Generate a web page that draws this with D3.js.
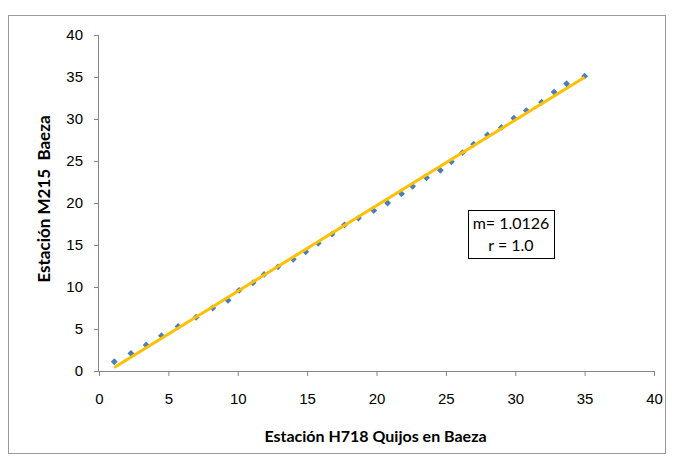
<!DOCTYPE html>
<html>
<head>
<meta charset="utf-8">
<script src="https://cdn.jsdelivr.net/npm/d3@7"></script>
<style>
  body { margin: 0; background: #fff; }
  svg { font-family: Lato, "Liberation Sans", sans-serif; }
</style>
</head>
<body>
<div id="chart"></div>
<script>
// values
let xValues = [1.1, 2.3, 3.4, 4.5, 5.7, 7.0, 8.2, 9.3, 10.1, 11.1, 11.9, 12.9, 14.0, 14.9, 15.8,
    16.8, 17.7, 18.7, 19.8, 20.8, 21.8, 22.6, 23.6, 24.6, 25.4, 26.2, 27.0, 28.0, 29.0, 29.9,
    30.8, 31.9, 32.8, 33.7, 35.0];
let yValues = [1.1, 2.1, 3.1, 4.2, 5.3, 6.4, 7.5, 8.4, 9.6, 10.5, 11.5, 12.4, 13.3, 14.2, 15.2,
    16.3, 17.4, 18.2, 19.1, 20.0, 21.1, 22.0, 23.0, 23.9, 24.9, 26.0, 27.0, 28.1, 29.0, 30.1,
    31.0, 32.0, 33.2, 34.2, 35.1];
let xTicks = [0, 5, 10, 15, 20, 25, 30, 35, 40];
let yTicks = [0, 5, 10, 15, 20, 25, 30, 35, 40];
let annotation = ["m= 1.0126", "r = 1.0"];
let xTitle = "Estación H718 Quijos en Baeza";
let yTitle = "Estación M215  Baeza";

let W = 673, H = 456;
let margin = {top: 35, right: 19, bottom: 85, left: 99};
let width = W - margin.left - margin.right;
let height = H - margin.top - margin.bottom;

let svg = d3.select("#chart").append("svg")
    .attr("width", W)
    .attr("height", H);

// chart border
svg.append("rect")
    .attr("x", 8.5).attr("y", 15.5)
    .attr("width", 657).attr("height", 438)
    .attr("fill", "none")
    .attr("stroke", "#9a9a9a");

let g = svg.append("g")
    .attr("transform", "translate(" + margin.left + "," + margin.top + ")");

let x = d3.scaleLinear().domain([0, 40]).range([0, width]);
let y = d3.scaleLinear().domain([0, 40]).range([height, 0]);

let xAxis = d3.axisBottom(x).tickValues(xTicks).tickSize(5).tickPadding(17);
let yAxis = d3.axisLeft(y).tickValues(yTicks).tickSize(5).tickPadding(11);

g.append("g").attr("class", "axis x-axis")
    .attr("transform", "translate(0," + height + ")")
    .call(xAxis);
g.append("g").attr("class", "axis y-axis")
    .call(yAxis);

g.selectAll(".axis path, .axis line")
    .attr("stroke", "#868686");
g.select(".x-axis .domain").attr("d", "M0,0.5H" + width);
g.select(".y-axis .domain").attr("d", "M-0.5,0V" + height);
g.selectAll(".axis text")
    .attr("fill", "#000")
    .style("font-size", "15px");

// axis titles
svg.append("text")
    .attr("x", margin.left + width / 2 - 1)
    .attr("y", 442)
    .attr("text-anchor", "middle")
    .style("font-size", "16px")
    .style("font-weight", "bold")
    .text(xTitle);

svg.append("text")
    .attr("transform", "translate(50,199) rotate(-90)")
    .attr("text-anchor", "middle")
    .style("font-size", "17px")
    .style("font-weight", "bold")
    .style("white-space", "pre")
    .text(yTitle);

// least squares trendline over the data range
let points = xValues.map((v, i) => ({x: v, y: yValues[i]}));
let mx = d3.mean(xValues), my = d3.mean(yValues);
let slope = d3.sum(points, d => (d.x - mx) * (d.y - my)) / d3.sum(points, d => (d.x - mx) * (d.x - mx));
let intercept = my - slope * mx;
let xr = d3.extent(xValues);

// markers
g.selectAll(".pt")
    .data(points)
    .enter().append("path")
    .attr("class", "pt")
    .attr("transform", d => "translate(" + x(d.x) + "," + y(d.y) + ")")
    .attr("d", d3.symbol().type(d3.symbolDiamond2).size(30))
    .attr("fill", "#4a7ebb");

g.append("line")
    .attr("x1", x(xr[0])).attr("y1", y(slope * xr[0] + intercept))
    .attr("x2", x(xr[1])).attr("y2", y(slope * xr[1] + intercept))
    .attr("stroke", "#ffc000")
    .attr("stroke-width", 3);

// annotation box
let box = svg.append("g");
box.append("rect")
    .attr("x", 468.5).attr("y", 210.5)
    .attr("width", 86).attr("height", 48)
    .attr("fill", "#fff")
    .attr("stroke", "#000");
box.selectAll("text")
    .data(annotation)
    .enter().append("text")
    .attr("x", 511)
    .attr("y", (d, i) => 229 + i * 22)
    .attr("text-anchor", "middle")
    .style("font-size", "16px")
    .text(d => d);
</script>
</body>
</html>
